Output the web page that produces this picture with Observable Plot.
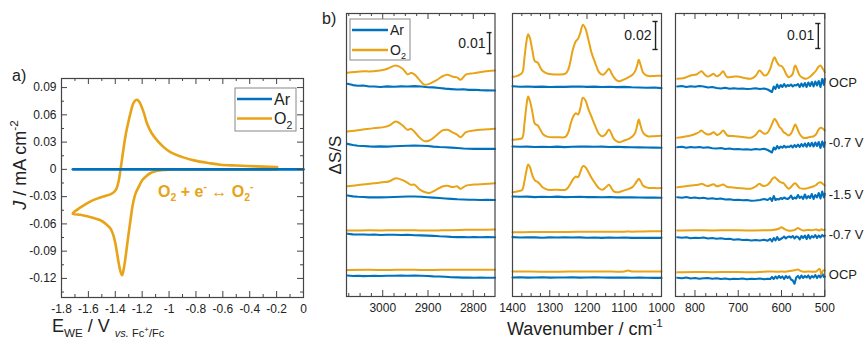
<!DOCTYPE html>
<html><head><meta charset="utf-8">
<script src="https://cdn.jsdelivr.net/npm/d3@7"></script>
<script src="https://cdn.jsdelivr.net/npm/@observablehq/plot@0.6"></script>
<style>
body{margin:0;background:#fff;}
#root{position:relative;width:864px;height:341px;font-family:"Liberation Sans",Arial,Helvetica,sans-serif;overflow:hidden;}
</style></head><body><div id="root"></div>
<script>
const BLUE = "#0072BD", ORANGE = "#E8A317", AXIS = "#444";
const FONT = "Liberation Sans, Arial, Helvetica, sans-serif";
const U = 1e-3; // spectra values are written in units of 1e-3 ΔS/S

// ---------- panel a: cyclic voltammetry ----------
const cvAr_E = [-1.716, 0];
const cvAr_J = [0, 0];
const cvO2_E = [-0.196,-0.30,-0.40,-0.50,-0.60,-0.70,-0.816,-0.90,-0.95,-1.00,-1.039,-1.07,-1.10,-1.138,-1.17,-1.200,-1.225,-1.250,-1.270,-1.287,-1.302,-1.317,-1.333,-1.349,-1.362,-1.374,-1.387,-1.399,-1.415,-1.436,-1.47,-1.51,-1.56,-1.609,-1.66,-1.716,-1.68,-1.635,-1.58,-1.535,-1.48,-1.436,-1.41,-1.391,-1.375,-1.362,-1.35,-1.337,-1.32,-1.30,-1.28,-1.267,-1.25,-1.237,-1.222,-1.208,-1.185,-1.163,-1.13,-1.089,-1.04,-0.99,-0.90,-0.816,-0.70,-0.618,-0.50,-0.419,-0.30,-0.196];
const cvO2_J = [0,0,0,0,0,0,0,-0.0001,-0.0002,-0.0004,-0.0007,-0.0012,-0.002,-0.004,-0.0075,-0.012,-0.019,-0.027,-0.039,-0.056,-0.072,-0.089,-0.106,-0.1165,-0.112,-0.1036,-0.092,-0.0817,-0.072,-0.065,-0.060,-0.056,-0.0535,-0.0516,-0.050,-0.0487,-0.044,-0.0396,-0.035,-0.0322,-0.0295,-0.0275,-0.025,-0.0212,-0.013,-0.0011,0.011,0.0245,0.040,0.0538,0.066,0.0722,0.0760,0.0766,0.0745,0.0703,0.061,0.0502,0.040,0.0319,0.0245,0.019,0.0135,0.0099,0.0068,0.0051,0.0042,0.0037,0.0030,0.0025];
const cvXTicks = [-1.8,-1.6,-1.4,-1.2,-1,-0.8,-0.6,-0.4,-0.2,0];
const cvXMinor = [-1.7,-1.5,-1.3,-1.1,-0.9,-0.7,-0.5,-0.3,-0.1];
const cvYTicks = [-0.12,-0.09,-0.06,-0.03,0,0.03,0.06,0.09];
const cvYMinor = [-0.135,-0.105,-0.075,-0.045,-0.015,0.015,0.045,0.075];

// ---------- panel b: spectra ----------
const rowLabels = ["OCP","-0.7 V","-1.5 V","-0.7 V","OCP"];

// C–H region (3080–2750 cm-1), scale bar 0.01
const chWn = [3078,3050,3020,2995,2985,2971,2956,2945,2938,2930,2919,2908,2897,2882,2868,2857,2845,2836,2828,2816,2798,2776,2752];
const chO2_r1 = [3.7,4.3,4.4,5.2,6.0,7.1,5.6,2.9,3.5,2.9,0.3,-2.0,-1.6,0.0,2.0,2.7,1.8,1.5,0.3,2.9,3.5,4.3,4.8];
const chO2_r2 = [4.3,5.0,5.9,6.5,7.2,9.0,7.2,5.1,5.6,4.2,1.5,-0.3,0.0,2.4,4.8,5.1,3.8,2.8,1.6,4.0,4.8,5.2,5.6];
const chO2_r3 = [3.0,3.7,4.4,5.0,5.4,6.8,5.9,4.6,3.7,3.8,1.6,0.3,-0.2,1.3,2.9,3.2,2.6,3.0,1.8,3.3,3.8,4.1,4.4];
const chFlatWn = [3078,3030,2990,2950,2910,2870,2830,2790,2752];
const chO2_r4 = [0.9,1.0,1.0,1.1,0.9,1.0,1.2,1.3,1.4];
const chO2_r5 = [1.2,1.3,1.2,1.4,1.2,1.3,1.3,1.3,1.4];
const chArWn = [3078,3066,3055,3043,3030,3019,3005,2990,2975,2960,2945,2930,2915,2901,2888,2875,2862,2849,2835,2822,2810,2798,2785,2770,2752];
const chAr_r1 = [-1.6,-2.2,-2.5,-2.4,-2.9,-2.9,-3.1,-2.8,-3.0,-2.8,-2.9,-2.7,-2.9,-3.2,-3.3,-3.6,-3.9,-4.1,-4.3,-4.2,-4.5,-4.4,-4.6,-4.7,-4.8];
const chAr_r2 = [-1.6,-2.1,-2.5,-2.6,-2.8,-2.9,-2.8,-2.9,-2.7,-2.6,-2.5,-2.4,-2.5,-2.6,-2.9,-3.1,-3.2,-3.4,-3.6,-3.8,-3.9,-4.0,-3.9,-4.0,-4.0];
const chAr_r3 = [-1.4,-1.8,-2.0,-2.1,-2.3,-2.2,-2.3,-2.2,-2.1,-2.0,-1.9,-1.9,-2.0,-2.2,-2.4,-2.6,-2.8,-3.0,-3.2,-3.3,-3.4,-3.4,-3.5,-3.4,-3.5];
const chAr_r4 = [-0.6,-0.9,-1.0,-1.0,-1.1,-1.0,-1.2,-1.1,-1.1,-1.2,-1.1,-1.3,-1.4,-1.5,-1.6,-1.8,-1.9,-2.1,-2.2,-2.2,-2.3,-2.2,-2.3,-2.2,-2.3];
const chAr_r5 = [-1.4,-1.6,-1.5,-1.7,-1.6,-1.5,-1.6,-1.5,-1.5,-1.4,-1.5,-1.4,-1.5,-1.6,-1.8,-1.9,-2.0,-2.2,-2.3,-2.4,-2.4,-2.5,-2.4,-2.5,-2.5];
const chOffsets = [102.9,74.3,49.5,30.5,11.4];
const chTicks = [3000,2900,2800];
const chMinor = [3075,3050,3025,2975,2950,2925,2875,2850,2825,2775];

// fingerprint region (1400–1000 cm-1), scale bar 0.02
const fpWn = [1400,1385,1374,1368,1363,1358,1353,1347,1340,1332,1325,1318,1305,1280,1258,1250,1244,1238,1230,1224,1218,1211,1204,1197,1188,1178,1168,1158,1150,1141,1134,1128,1120,1112,1100,1088,1078,1070,1065,1061,1056,1050,1042,1034,1020,1000];
const fpO2_r1 = [2.4,3.5,5.5,16,27,32.9,30,22,13.8,12.6,9,6.5,4.8,4.3,4.8,8,14.3,22,28,29.8,34,39.8,37,30,20,12.5,6,4,5.5,8.4,5,2.4,0,-0.5,0.8,2.4,4,7,11,14.8,11,5.9,3.8,3.1,3.2,3.4];
const fpO2_r2 = [0.5,0.9,1.8,12,24,31.4,28,21,12.1,10.7,7.5,4.5,2.6,2.4,2.6,6,11.9,16.5,19.5,18.6,23,30.5,28.5,23,17,10.5,4.8,3,4.5,7.9,4.5,1.2,-0.6,-1.2,0,1.2,2.8,6,11,15,10.5,5.9,3.7,2.9,3.1,3.4];
const fpO2_r3 = [0.2,0.8,1.9,8,15,20,18,12.5,8.6,7.4,5.5,3.5,2.0,1.9,1.9,3.8,6.4,9.2,11.4,10.9,14.5,18.8,18,15,10.5,6.5,3,2.0,3.5,5.5,3,0.8,0.2,0.4,1.5,2.6,3.8,6.5,8.5,9.8,8,5,3.8,3.2,3.1,3.1];
const fpFlatWn = [1400,1350,1300,1250,1200,1150,1100,1090,1080,1050,1000];
const fpO2_r4 = [0.2,0.3,0.3,0.4,0.5,0.5,0.6,0.7,0.6,0.8,0.9];
const fpO2_r5 = [0.7,0.7,0.6,0.7,0.7,0.7,0.8,1.4,0.8,0.7,0.8];
const fpArWn = [1400,1380,1360,1340,1320,1300,1280,1260,1240,1220,1200,1180,1160,1140,1120,1100,1080,1060,1040,1020,1000];
const fpAr_r1 = [-4.2,-4.5,-4.3,-4.6,-4.4,-4.7,-4.5,-4.6,-4.4,-4.3,-4.6,-4.4,-4.7,-4.5,-4.8,-4.6,-4.9,-5.0,-5.2,-5.1,-5.5];
const fpAr_r2 = [-4.3,-4.5,-4.4,-4.6,-4.5,-4.6,-4.4,-4.7,-4.5,-4.4,-4.3,-4.5,-4.4,-4.6,-4.5,-4.7,-4.8,-4.9,-5.0,-5.1,-5.2];
const fpAr_r3 = [-2.9,-3.1,-3.0,-3.3,-3.1,-3.2,-3.0,-3.3,-3.2,-3.1,-3.3,-3.2,-3.4,-3.2,-3.5,-3.4,-3.5,-3.6,-3.7,-3.6,-3.8];
const fpAr_r4 = [-3.3,-3.6,-3.4,-3.5,-3.7,-3.5,-3.6,-3.4,-3.6,-3.5,-3.7,-3.6,-3.8,-3.6,-3.7,-3.6,-3.8,-3.7,-3.8,-3.7,-3.8];
const fpAr_r5 = [-3.5,-3.4,-3.6,-3.5,-3.4,-3.6,-3.5,-3.5,-3.4,-3.6,-3.5,-3.3,-3.5,-3.6,-3.5,-3.6,-3.7,-3.6,-3.7,-3.8,-3.8];
const fpOffsets = [154.3,111.4,74.3,45.7,17.1];
const fpTicks = [1400,1300,1200,1100,1000];
const fpMinor = [1375,1350,1325,1275,1250,1225,1175,1150,1125,1075,1050,1025];

// low wavenumber region (845–500 cm-1), scale bar 0.01
const lwWn = [841,825,810,797,790,785,778,771,764,757,752,748,742,735,729,725,712,701,686,671,660,651,645,640,633,626,621,616,611,605,600,595,590,584,578,574,570,568,564,558,550,543,535,527,520,515,510,505,500];
const lwO2_r1 = [0.7,1.0,2.0,2.4,3.2,3.7,2.5,1.6,2.0,2.7,1.9,1.7,2.4,3.7,2.0,1.3,1.5,1.6,1.0,0.7,1.8,4.0,3.0,2.0,2.4,4.7,7.5,9.3,7.5,6.0,5.8,4.7,2.8,1.3,1.8,2.7,5.5,6.0,4.5,2.0,1.0,0.7,1.4,2.7,4.0,5.4,6.0,4.8,3.3];
const lwO2_r2 = [1.1,1.5,2.0,2.8,3.4,4.0,3.0,2.4,2.6,3.3,2.6,2.2,2.8,4.0,2.8,2.0,1.8,1.6,1.3,1.1,2.2,4.0,3.3,2.7,3.0,5.0,7.0,8.7,7.5,5.5,4.6,3.3,2.8,2.0,2.8,4.2,6.0,6.4,5.0,2.6,1.1,1.0,1.4,1.6,2.5,4.2,5.1,4.8,4.0];
const lwO2_r3 = [2.1,2.4,2.8,3.0,3.2,3.5,3.0,2.6,2.9,3.3,2.7,2.5,2.8,3.2,2.6,2.2,2.0,1.8,1.6,1.5,2.4,3.5,2.8,2.6,3.0,4.2,5.5,6.1,5.4,4.4,4.0,3.7,2.6,1.5,2.2,3.0,3.6,3.7,3.0,1.8,1.5,1.6,2.0,2.4,3.0,3.8,4.1,3.5,2.8];
const lwFlatWn = [841,800,760,720,680,640,620,605,600,595,585,570,562,558,550,540,530,520,512,508,504,500];
const lwO2_r4 = [0.8,0.9,0.8,0.9,0.8,0.9,1.0,1.6,2.1,1.6,0.8,1.0,1.8,1.4,0.8,1.0,0.9,1.2,0.8,1.3,1.0,1.1];
const lwO2_r5 = [0.1,0.2,0.1,0.2,0.1,0.3,0.4,0.3,0.4,0.3,0.5,0.9,1.2,0.8,0.3,0.4,0.3,0.4,1.5,-0.8,0.8,0.8];
const lwArWn = [841,830,820,810,800,790,780,770,760,750,740,730,720,710,700,690,680,670,660,650,640,632,626,622,618,614,610,606,602,598,594,590,586,582,578,574,570,566,562,558,554,550,546,542,538,534,530,526,522,518,514,510,506,502,500];
const lwAr_r1 = [-2.4,-2.2,-2.6,-2.3,-2.5,-2.2,-2.4,-2.8,-2.6,-3.0,-3.2,-2.9,-3.3,-3.1,-3.3,-3.2,-3.4,-3.3,-3.1,-3.4,-3.2,-3.6,-4.2,-4.6,-2.4,-3.4,-1.6,-3.0,-1.8,-2.6,-1.4,-2.5,-1.8,-2.2,-1.6,-2.4,-1.8,-2.0,-1.4,-2.6,-1.2,-2.4,-1.0,-2.6,-0.8,-2.2,-0.6,-2.4,-0.4,-2.0,-0.2,-2.6,0.6,-1.8,0.7];
const lwAr_r2 = [-2.7,-2.5,-2.9,-2.6,-2.8,-2.6,-2.9,-2.7,-3.1,-3.2,-3.0,-3.4,-3.2,-3.5,-3.4,-3.6,-3.5,-3.7,-3.4,-3.6,-3.3,-3.8,-4.4,-4.8,-2.8,-3.6,-2.2,-3.2,-2.4,-2.9,-2.1,-2.8,-2.4,-2.6,-2.0,-2.8,-1.8,-2.6,-1.6,-2.6,-1.4,-2.4,-1.2,-2.5,-1.0,-2.3,-0.9,-2.4,-0.8,-2.2,-0.6,-3.0,-0.4,-2.6,-0.7];
const lwAr_r3 = [-1.9,-2.1,-1.8,-2.2,-2.0,-2.3,-2.1,-2.5,-2.3,-2.6,-2.4,-2.8,-2.7,-3.0,-2.9,-3.1,-3.0,-3.3,-3.2,-3.0,-2.6,-3.0,-2.2,-3.4,-1.4,-3.0,-2.6,-2.8,-2.2,-2.6,-2.0,-2.4,-2.6,-2.2,-1.2,-2.6,-2.0,-2.4,-1.0,-2.2,-1.6,-2.6,-0.8,-2.4,-1.4,-2.2,-0.6,-2.6,-1.0,-2.0,-0.2,-2.4,0.4,-2.0,-0.5];
const lwAr_r4 = [-1.9,-2.1,-1.9,-2.3,-2.1,-2.2,-2.0,-2.4,-2.2,-2.5,-2.3,-2.6,-2.5,-2.9,-2.7,-3.0,-2.9,-3.2,-3.0,-3.2,-2.9,-3.3,-2.6,-3.6,-2.2,-3.2,-1.8,-3.0,-2.6,-2.2,-1.6,-2.4,-1.8,-1.6,-2.0,-1.4,-2.4,-1.6,-1.8,-2.8,-1.4,-2.2,-1.2,-2.6,-1.0,-2.4,-1.4,-2.0,-1.0,-2.2,-1.2,-2.0,-1.0,-1.6,-1.2];
const lwAr_r5 = [-2.1,-2.3,-2.0,-2.4,-2.2,-2.5,-2.3,-2.2,-2.5,-2.3,-2.6,-2.4,-2.7,-2.5,-2.6,-2.4,-2.7,-2.5,-2.6,-2.4,-2.7,-2.5,-2.6,-1.8,-2.6,-1.6,-2.4,-1.4,-2.2,-1.6,-2.6,-1.4,-2.2,-1.6,-2.8,-3.2,-4.5,-2.0,-1.4,-2.4,-1.2,-2.2,-1.4,-2.0,-1.2,-2.4,-1.4,-2.0,-1.0,-2.2,-1.2,-2.0,-0.4,-1.8,-1.6];
const lwOffsets = [86.4,62.4,41.6,25.6,9.6];
const lwTicks = [800,700,600,500];
const lwMinor = [825,775,750,725,675,650,625,575,550,525];

// ---------- helpers ----------
const root = document.getElementById("root");
function place(el, left, top) {
  el.style.position = "absolute"; el.style.left = left + "px"; el.style.top = top + "px";
  el.style.maxWidth = "none"; el.style.overflow = "visible";
  root.appendChild(el);
}
const baseStyle = {fontFamily: FONT, fontSize: "12px", color: "#222", background: "transparent", overflow: "visible"};

function insetTicks(major, minor, innerH, innerW, axis) {
  const m = [];
  const mk = axis === "x" ? Plot.tickX : Plot.tickY;
  const c = {stroke: AXIS, strokeWidth: 1};
  const inner = axis === "x" ? innerH : innerW;
  const [a, b] = axis === "x" ? ["insetTop", "insetBottom"] : ["insetRight", "insetLeft"];
  const acc = axis === "x" ? {x: d => d} : {y: d => d};
  m.push(mk(major, {...acc, ...c, [a]: inner - 6}));
  m.push(mk(major, {...acc, ...c, [b]: inner - 6}));
  m.push(mk(minor, {...acc, ...c, [a]: inner - 3}));
  m.push(mk(minor, {...acc, ...c, [b]: inner - 3}));
  return m;
}

// ---------- panel a ----------
{
  const W = 310, Hh = 341, ml = 61, mr = 7, mt = 78, mb = 44;
  const innerH = Hh - mt - mb, innerW = W - ml - mr;
  const o2 = cvO2_E.map((e, i) => ({E: e, J: cvO2_J[i]}));
  const ar = cvAr_E.map((e, i) => ({E: e, J: cvAr_J[i]}));
  const fmtX = d => String(+d.toFixed(1));
  const fmtY = d => d === 0 ? "0" : d.toFixed(2);
  const p = Plot.plot({
    width: W, height: Hh, marginLeft: ml, marginRight: mr, marginTop: mt, marginBottom: mb,
    style: baseStyle,
    x: {domain: [-1.8, 0], ticks: cvXTicks, tickSize: 0, tickPadding: 7, tickFormat: fmtX, label: null},
    y: {domain: [-0.141, 0.1], ticks: cvYTicks, tickSize: 0, tickPadding: 5, tickFormat: fmtY, label: null},
    marks: [
      Plot.line(o2, {x: "E", y: "J", stroke: ORANGE, strokeWidth: 2.6, curve: "catmull-rom"}),
      Plot.line(ar, {x: "E", y: "J", stroke: BLUE, strokeWidth: 2.6}),
      ...insetTicks(cvXTicks, cvXMinor, innerH, innerW, "x"),
      ...insetTicks(cvYTicks, cvYMinor, innerH, innerW, "y"),
      Plot.frame({stroke: AXIS, strokeWidth: 1.2})
    ]
  });
  place(p, 0, 0);
}

// ---------- panel b ----------
function spectra(cfg) {
  const ml = 20, mt = 13, mb = 45, mr = cfg.mr;
  const width = (cfg.frameR - cfg.frameL) + ml + mr;
  const innerH = 341 - mt - mb, innerW = cfg.frameR - cfg.frameL;
  const orange = [], blue = [];
  cfg.o2.forEach((vals, r) => vals.forEach((v, i) => orange.push({wn: cfg.o2Wn[i], y: (cfg.offsets[r] + v) * U, row: r})));
  cfg.o2Flat.forEach((vals, k) => vals.forEach((v, i) => orange.push({wn: cfg.flatWn[i], y: (cfg.offsets[k + 3] + v) * U, row: k + 3})));
  cfg.ar.forEach((vals, r) => vals.forEach((v, i) => blue.push({wn: cfg.arWn[i], y: (cfg.offsets[r] + v) * U, row: r})));
  const bar = cfg.bar;
  const marks = [
    Plot.line(blue, {x: "wn", y: "y", z: "row", stroke: BLUE, strokeWidth: 2.1}),
    Plot.line(orange, {x: "wn", y: "y", z: "row", stroke: ORANGE, strokeWidth: 2, curve: "catmull-rom"}),
    ...insetTicks(cfg.ticks, cfg.minor, innerH, innerW, "x"),
    Plot.ruleX([bar], {x: "wn", y1: d => d.y0 * U, y2: d => d.y1 * U, stroke: "#222", strokeWidth: 1.4}),
    Plot.ruleY([bar.y0 * U, bar.y1 * U], {y: d => d, x1: bar.wn + bar.cap, x2: bar.wn - bar.cap, stroke: "#222", strokeWidth: 1.4}),
    Plot.text([bar], {x: "wn", y: d => (d.y0 + d.y1) / 2 * U, text: "text", textAnchor: "end", dx: -4, fontSize: 14, fill: "#222"}),
    Plot.frame({stroke: AXIS, strokeWidth: 1.2})
  ];
  if (cfg.labels) {
    const lab = cfg.labels.map((t, r) => ({t, wn: cfg.xDomain[1], y: (cfg.offsets[r] - 1) * U}));
    marks.push(Plot.text(lab, {x: "wn", y: "y", text: "t", textAnchor: "start", dx: 4, fontSize: 13, fill: "#222"}));
  }
  const p = Plot.plot({
    width, height: 341, marginLeft: ml, marginRight: mr, marginTop: mt, marginBottom: mb,
    style: baseStyle,
    x: {domain: cfg.xDomain, ticks: cfg.ticks, tickSize: 0, tickPadding: 7, tickFormat: d => String(d), label: null},
    y: {domain: [0, cfg.yTop * U], axis: null},
    marks
  });
  place(p, cfg.frameL - ml, 0);
}

spectra({frameL: 345.5, frameR: 494, mr: 20, xDomain: [3080, 2752], yTop: 134.8, offsets: chOffsets,
  o2Wn: chWn, o2: [chO2_r1, chO2_r2, chO2_r3], flatWn: chFlatWn, o2Flat: [chO2_r4, chO2_r5],
  arWn: chArWn, ar: [chAr_r1, chAr_r2, chAr_r3, chAr_r4, chAr_r5],
  ticks: chTicks, minor: chMinor, bar: {wn: 2764, y0: 115.7, y1: 125.7, cap: 5.5, text: "0.01"}});
spectra({frameL: 512, frameR: 661, mr: 20, xDomain: [1400, 1000], yTop: 202.1, offsets: fpOffsets,
  o2Wn: fpWn, o2: [fpO2_r1, fpO2_r2, fpO2_r3], flatWn: fpFlatWn, o2Flat: [fpO2_r4, fpO2_r5],
  arWn: fpArWn, ar: [fpAr_r1, fpAr_r2, fpAr_r3, fpAr_r4, fpAr_r5],
  ticks: fpTicks, minor: fpMinor, bar: {wn: 1016, y0: 176.4, y1: 196.4, cap: 7, text: "0.02"}});
spectra({frameL: 675, frameR: 824.3, mr: 39, xDomain: [845, 500], yTop: 113.2, offsets: lwOffsets,
  o2Wn: lwWn, o2: [lwO2_r1, lwO2_r2, lwO2_r3], flatWn: lwFlatWn, o2Flat: [lwO2_r4, lwO2_r5],
  arWn: lwArWn, ar: [lwAr_r1, lwAr_r2, lwAr_r3, lwAr_r4, lwAr_r5],
  ticks: lwTicks, minor: lwMinor, bar: {wn: 515, y0: 99.2, y1: 109.2, cap: 6, text: "0.01"}, labels: rowLabels});

// ---------- overlay text, legends ----------
const ov = d3.select(root).append("svg").attr("width", 864).attr("height", 341)
  .style("position", "absolute").style("left", "0px").style("top", "0px")
  .style("font-family", FONT).attr("fill", "#222");

function rich(x, y, size, parts, opts = {}) {
  const t = ov.append("text").attr("x", x).attr("y", y).attr("font-size", size)
    .attr("text-anchor", opts.anchor || "start").attr("fill", opts.fill || "#222");
  if (opts.weight) t.attr("font-weight", opts.weight);
  if (opts.rotate) t.attr("transform", `rotate(${opts.rotate},${x},${y})`);
  let cur = 0;
  for (const p of parts) {
    const fs = p.size || ((p.sub || p.sup) ? size * 0.65 : size);
    const target = p.shift != null ? p.shift : p.sub ? size * 0.28 : p.sup ? -size * 0.42 : 0;
    const s = t.append("tspan").text(p.t).attr("font-size", fs).attr("dy", target - cur);
    if (p.italic) s.attr("font-style", "italic");
    cur = target;
  }
  return t;
}

rich(12, 81, 16, [{t: "a)"}]);
rich(322, 24, 16, [{t: "b)"}]);
// panel a axis titles
rich(26, 165, 18, [{t: "J", italic: true}, {t: " / mA cm"}, {t: "-2", sup: true}], {anchor: "middle", rotate: -90});
rich(52, 332, 18, [{t: "E"}, {t: "WE", sub: true}, {t: " / V "}, {t: "vs.", italic: true, size: 11, shift: 5}, {t: " Fc", size: 11, shift: 5}, {t: "+", size: 8, shift: 0}, {t: "/Fc", size: 11, shift: 5}]);
// reaction
rich(158, 197, 16, [{t: "O"}, {t: "2", sub: true}, {t: " + e"}, {t: "-", sup: true}, {t: " \u2194 O"}, {t: "2", sub: true}, {t: "-", sup: true}], {fill: ORANGE, weight: "bold"});
// panel b axis titles
rich(341, 155, 17, [{t: "\u0394S/S"}], {anchor: "middle", rotate: -90});
rich(507, 335, 18, [{t: "Wavenumber / cm"}, {t: "-1", sup: true}]);

// legends
function legend(x, y, w, h, rows, size, lineLen, gap) {
  ov.append("rect").attr("x", x).attr("y", y).attr("width", w).attr("height", h)
    .attr("fill", "#fff").attr("stroke", "#888").attr("stroke-width", 1);
  rows.forEach((r, i) => {
    const cy = y + 11 + i * gap;
    ov.append("line").attr("x1", x + 2).attr("x2", x + 2 + lineLen).attr("y1", cy).attr("y2", cy)
      .attr("stroke", r.color).attr("stroke-width", 2.5);
    rich(x + 4 + lineLen, cy + size * 0.36, size, r.parts);
  });
}
legend(235, 88, 61, 43, [
  {color: BLUE, parts: [{t: "Ar"}]},
  {color: ORANGE, parts: [{t: "O"}, {t: "2", sub: true}]}
], 16, 35, 19.5);
legend(350, 19, 60, 41, [
  {color: BLUE, parts: [{t: "Ar"}]},
  {color: ORANGE, parts: [{t: "O"}, {t: "2", sub: true}]}
], 14, 36, 20);
</script></body></html>
